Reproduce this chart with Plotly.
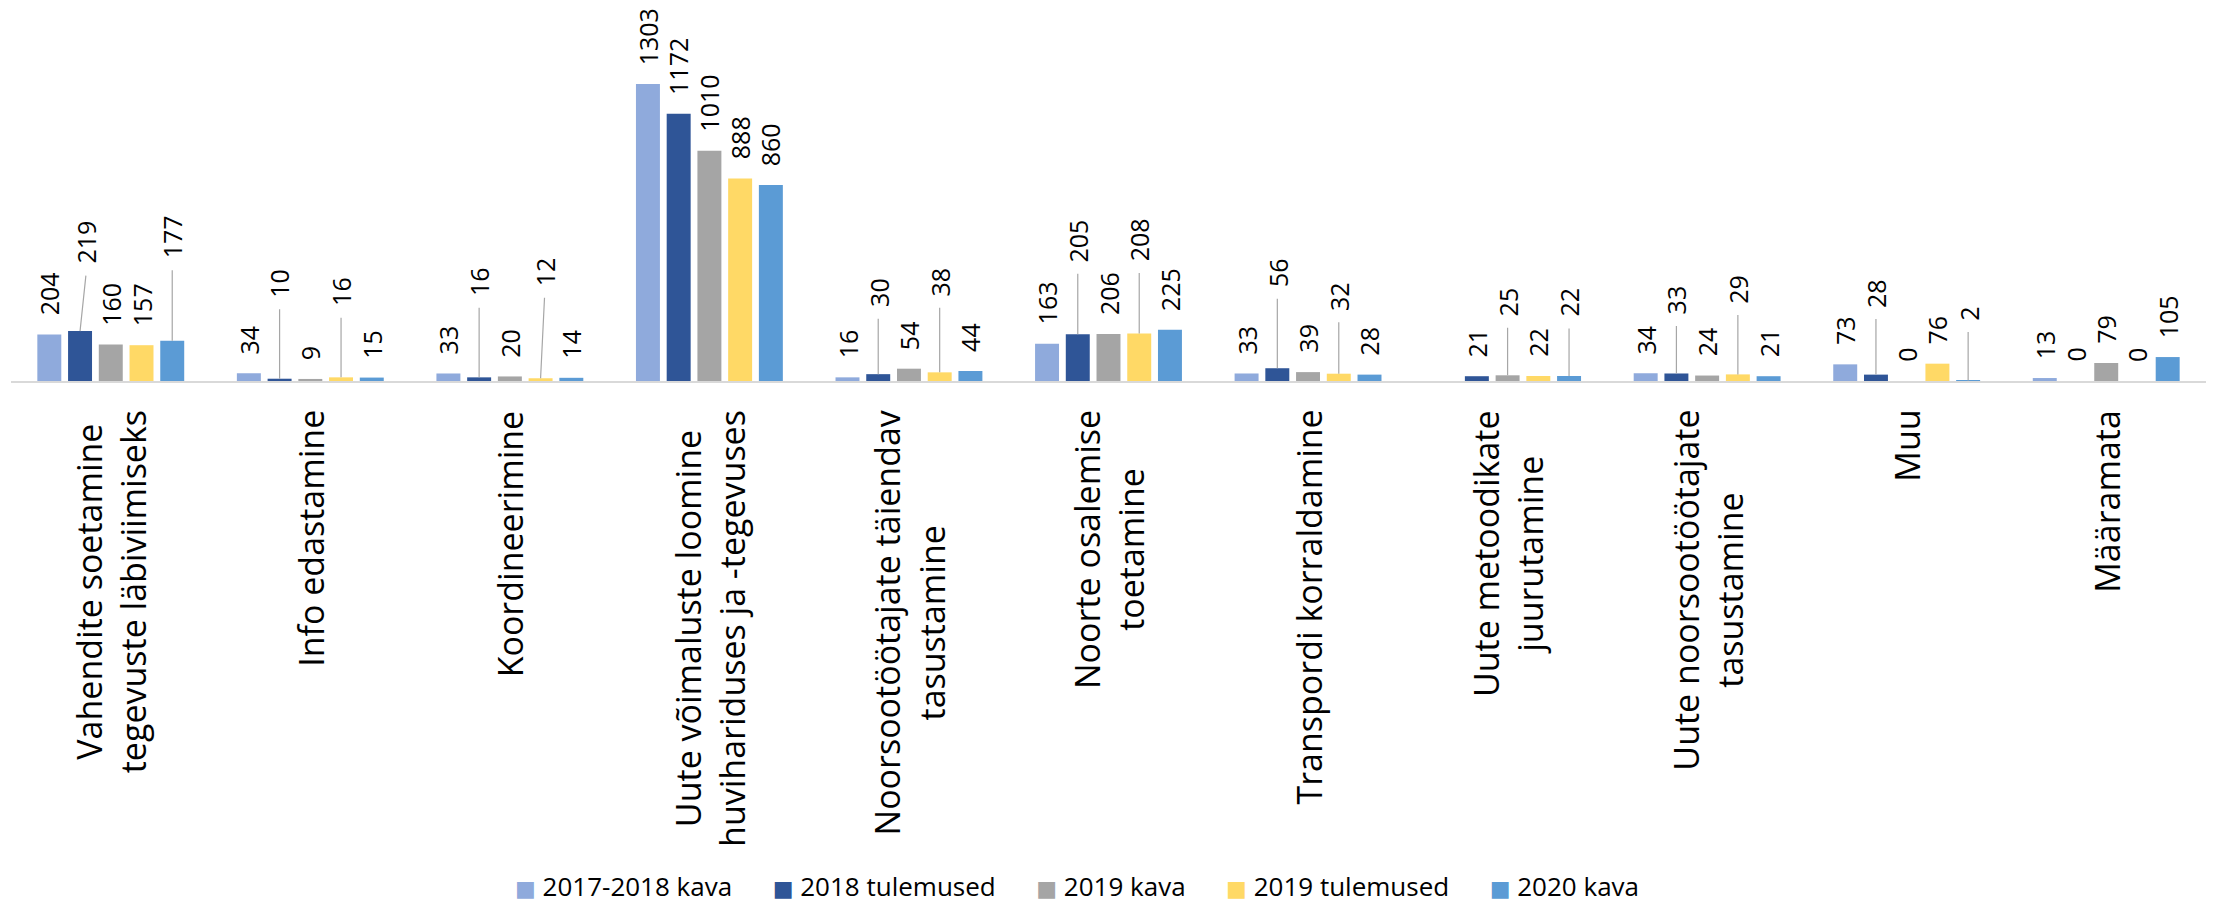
import plotly.graph_objects as go

# ---------------- data ----------------
categories = [
    "Vahendite soetamine<br>tegevuste läbiviimiseks",
    "Info edastamine",
    "Koordineerimine",
    "Uute võimaluste loomine<br>huvihariduses ja -tegevuses",
    "Noorsootöötajate täiendav<br>tasustamine",
    "Noorte osalemise<br>toetamine",
    "Transpordi korraldamine",
    "Uute metoodikate<br>juurutamine",
    "Uute noorsootöötajate<br>tasustamine",
    "Muu",
    "Määramata",
]
series_names = ["2017-2018 kava", "2018 tulemused", "2019 kava", "2019 tulemused", "2020 kava"]
kava_2017_2018 = [204, 34, 33, 1303, 16, 163, 33, None, 34, 73, 13]
tulemused_2018 = [219, 10, 16, 1172, 30, 205, 56, 21, 33, 28, 0]
kava_2019 = [160, 9, 20, 1010, 54, 206, 39, 25, 24, 0, 79]
tulemused_2019 = [157, 16, 12, 888, 38, 208, 32, 22, 29, 76, 0]
kava_2020 = [177, 15, 14, 860, 44, 225, 28, 22, 21, 2, 105]
series_values = [kava_2017_2018, tulemused_2018, kava_2019, tulemused_2019, kava_2020]

# ---------------- style ----------------
colors = ["#8FAADC", "#2F5597", "#A5A5A5", "#FFD966", "#5B9BD5"]
FONT = "Open Sans, Noto Sans, DejaVu Sans, sans-serif"
BARGAP = 0.23
BARGROUPGAP = 0.22
LABEL_GAP = 17
LEADER_GAP = 8
# labels moved up with a leader line: (category, series) -> px above bar top
raised = {(0, 1): 65, (0, 4): 80, (1, 1): 79, (1, 3): 69, (2, 1): 79, (2, 3): 90,
          (4, 1): 65, (4, 3): 74, (5, 1): 70, (5, 3): 70, (6, 1): 79, (6, 3): 61,
          (7, 2): 57, (7, 4): 57, (8, 1): 57, (8, 3): 69, (9, 1): 65, (9, 4): 58}
raised_dx = {(0, 1): 6, (2, 3): 4}

W, H = 2223, 904
margin = dict(l=11, r=17, t=20, b=523)
plot_h = H - margin["t"] - margin["b"]
y_top = plot_h / 0.228

fig = go.Figure()
for name, vals, col in zip(series_names, series_values, colors):
    fig.add_trace(go.Bar(
        name=name, x=categories, y=vals, marker=dict(color=col, line=dict(width=0)),
        showlegend=False,
    ))

annotations = []
n = len(series_names)
slot = (1 - BARGAP) / n
label_font = dict(family=FONT, size=25, color="#000000")
for i in range(len(categories)):
    for j, vals in enumerate(series_values):
        v = vals[i]
        if v is None:
            continue
        xpos = i + (j - (n - 1) / 2) * slot
        key = (i, j)
        if key in raised:
            dx = raised_dx.get(key, 0)
            annotations.append(dict(
                x=xpos, y=v, xref="x", yref="y", text="",
                showarrow=True, arrowhead=0, arrowwidth=1.2, arrowcolor="#A6A6A6",
                ax=dx, ay=-(raised[key] - LEADER_GAP), standoff=0, startstandoff=0,
            ))
            annotations.append(dict(
                x=xpos, y=v, xref="x", yref="y", text=str(v), textangle=-90,
                showarrow=False, xanchor="center", yanchor="bottom",
                yshift=raised[key], xshift=dx, font=label_font,
            ))
        else:
            annotations.append(dict(
                x=xpos, y=v, xref="x", yref="y", text=str(v), textangle=-90,
                showarrow=False, xanchor="center", yanchor="bottom", yshift=LABEL_GAP,
                font=label_font,
            ))
    annotations.append(dict(
        x=i, y=0, xref="x", yref="y", text=categories[i], textangle=-90,
        showarrow=False, xanchor="center", yanchor="top", yshift=-27, align="center",
        font=dict(family=FONT, size=34, color="#000000"),
    ))

# legend row (series names with coloured squares)
NB = "\u00a0"
items = []
for name, col in zip(series_names, colors):
    items.append(f"<span style='color:{col};font-size:22px'>\u25a0</span>{NB}{name}")
legend_text = (NB * 6).join(items)
annotations.append(dict(
    x=0.4856, y=-(886 - (H - margin["b"])) / plot_h, xref="paper", yref="paper",
    text=legend_text, showarrow=False, xanchor="center", yanchor="middle",
    font=dict(family=FONT, size=26, color="#000000"),
))

fig.update_layout(
    width=W, height=H, margin=margin,
    paper_bgcolor="white", plot_bgcolor="white",
    barmode="group", bargap=BARGAP, bargroupgap=BARGROUPGAP,
    font=dict(family=FONT, color="#000000"),
    xaxis=dict(showticklabels=False, ticks="", showgrid=False, showline=True,
               linecolor="#D9D9D9", linewidth=2, zeroline=False),
    yaxis=dict(range=[0, y_top], visible=False, showgrid=False, zeroline=False),
    showlegend=False,
    annotations=annotations,
)

fig.write_html("out.html", config={"displayModeBar": False},
               post_script="document.body.style.margin='0';")
